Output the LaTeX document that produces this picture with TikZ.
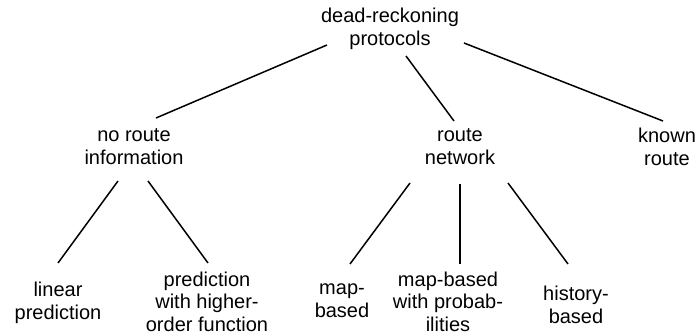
\documentclass[tikz,border=0pt]{standalone}
\usepackage{fontspec}
\setmainfont{Liberation Sans}
\usetikzlibrary{calc,positioning}
\tikzstyle{leaf} = [align=center, inner sep=0pt,
    font=\fontsize{20}{22.5}\selectfont,
    execute at begin node=\strut, execute at end node=\strut]
\tikzstyle{branch} = [draw, line width=1.5pt]

\begin{document}
\begin{tikzpicture}[x=1pt,y=-1pt]
\useasboundingbox (0,0) rectangle (696,336);

\node (root) [leaf] at (390,30) {dead-reckoning\\protocols};

\node (noroute) [leaf] at (134,150) {no route\\information};
\node (routenet) [leaf] at (460,150) {route\\network};
\node (known) [leaf] at (667,150) {known\\route};

\node (linear) [leaf] at (58,304) {linear\\prediction};
\node (higher) [leaf] at (207,305) {prediction\\with higher-\\order function};
\node (mapbased) [leaf] at (342,304) {map-\\based};
\node (mapprob) [leaf] at (448,305) {map-based\\with probab-\\ilities};
\node (history) [leaf] at (576,308) {history-\\based};

% first level
\draw [branch] ($(root)+(-63,15)$) -- ($(noroute)+(22,-32)$);
\draw [branch] ($(root)+(16,26)$) -- ($(routenet)+(-6,-29)$);
\draw [branch] ($(root)+(74,13)$) -- ($(known)+(-4,-29)$);

% second level
\draw [branch] ($(noroute)+(-16,31)$) -- ($(linear)+(0,-41)$);
\draw [branch] ($(noroute)+(14,31)$) -- ($(higher)+(1,-42)$);
\draw [branch] ($(routenet)+(-50,33)$) -- ($(mapbased)+(8,-40)$);
\draw [branch] ($(routenet)+(0,34)$) -- ($(mapprob)+(12,-41)$);
\draw [branch] ($(routenet)+(48,33)$) -- ($(history)+(-8,-44)$);

\end{tikzpicture}
\end{document}
